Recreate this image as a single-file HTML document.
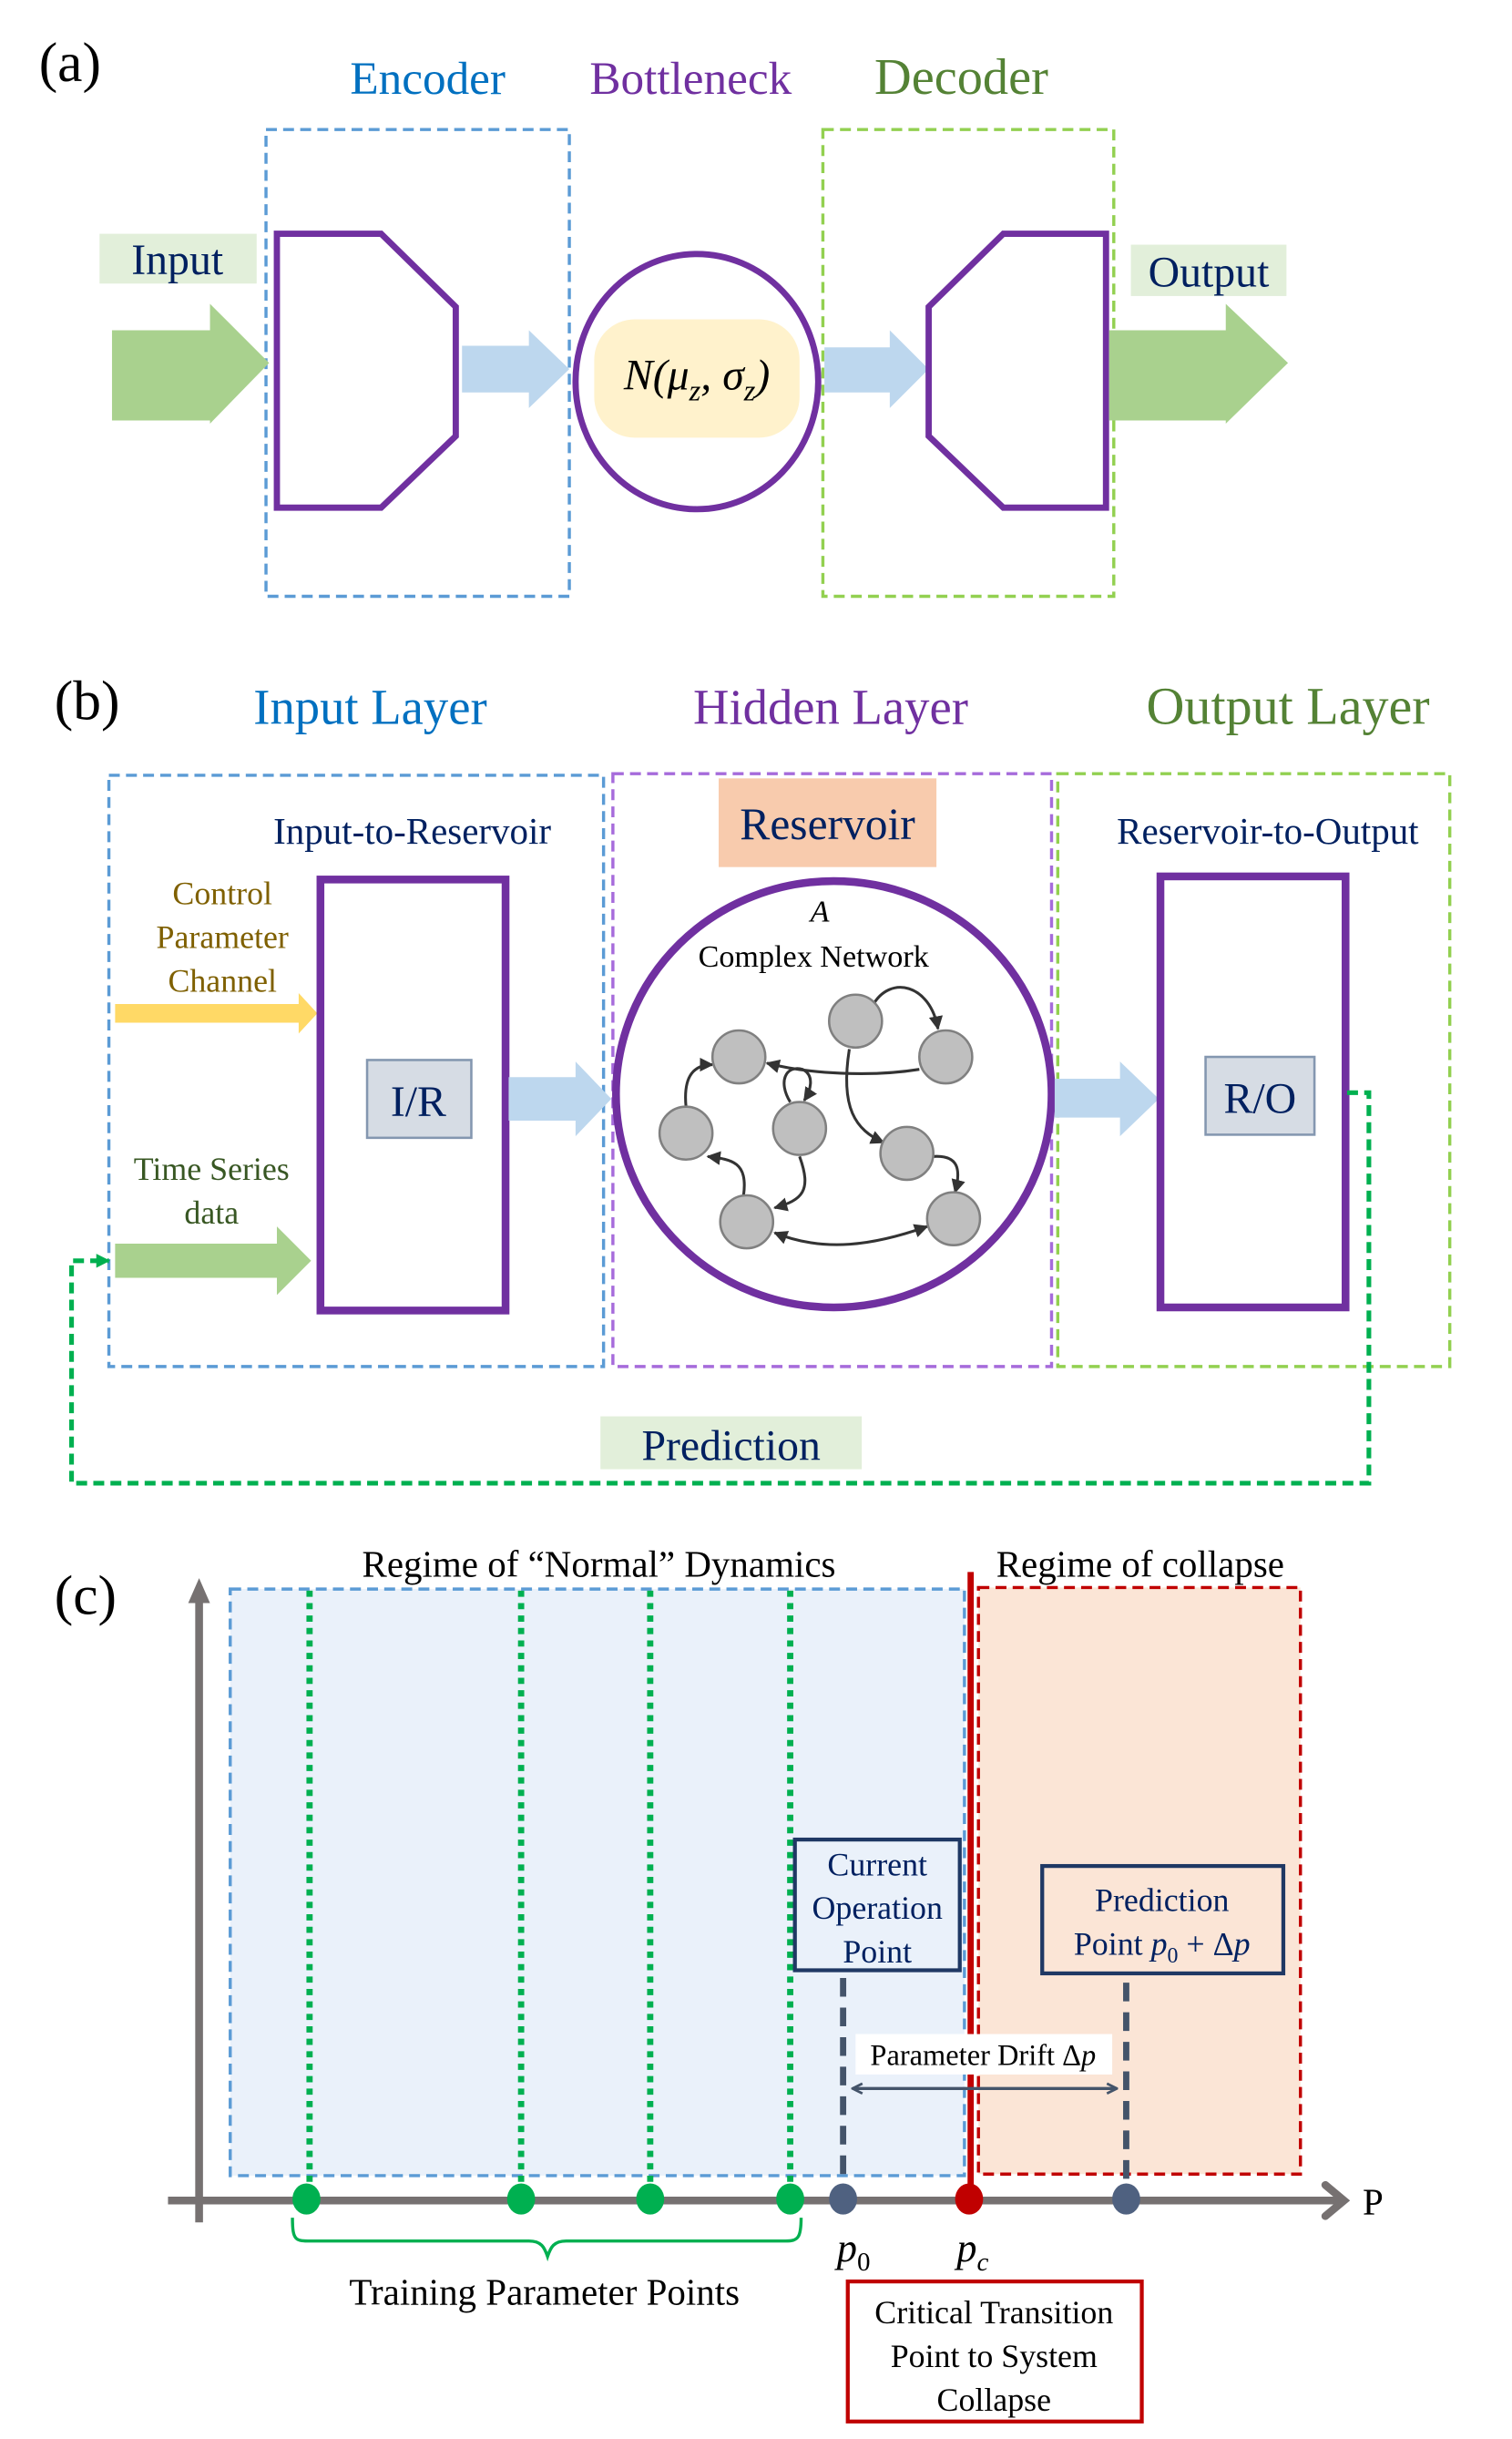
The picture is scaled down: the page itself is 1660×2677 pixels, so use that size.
<!DOCTYPE html>
<html><head><meta charset="utf-8"><style>
html,body{margin:0;padding:0;background:#fff;}
svg{display:block;font-family:"Liberation Serif","Times New Roman",serif;}
text{font-family:"Liberation Serif","Times New Roman",serif;}
</style></head><body>
<svg width="1660" height="2677" viewBox="0 0 972 1567" xmlns="http://www.w3.org/2000/svg" font-family="Liberation Serif, serif">
<defs>
<marker id="ah" viewBox="0 0 10 10" refX="9" refY="5" markerWidth="5" markerHeight="5" orient="auto-start-reverse"><path d="M0,0 L10,5 L0,10 z" fill="#333"/></marker>
<marker id="ah2" viewBox="0 0 10 10" refX="9" refY="5" markerWidth="4" markerHeight="4" orient="auto-start-reverse"><path d="M1,1 L9,5 L1,9" fill="none" stroke="#44546A" stroke-width="2"/></marker>
<marker id="gh" viewBox="0 0 10 10" refX="9" refY="5" markerWidth="3" markerHeight="3" orient="auto"><path d="M0,0 L10,5 L0,10 z" fill="#00B050"/></marker>
</defs>

<!-- (a) -->
<text x="25" y="52" font-size="36">(a)</text>
<text x="275" y="60" font-size="30" fill="#0070C0" text-anchor="middle">Encoder</text>
<text x="444" y="60" font-size="30" fill="#7030A0" text-anchor="middle">Bottleneck</text>
<text x="618" y="60" font-size="33" fill="#548235" text-anchor="middle">Decoder</text>
<rect x="171" y="83" width="195" height="300" fill="none" stroke="#5B9BD5" stroke-width="2" stroke-dasharray="7,4"/>
<rect x="529" y="83" width="187" height="300" fill="none" stroke="#92D050" stroke-width="2" stroke-dasharray="7,4"/>
<rect x="64" y="150" width="101" height="32" fill="#E2EFDA"/>
<text x="114" y="176" font-size="28" fill="#002060" text-anchor="middle">Input</text>
<polygon points="72,212 135,212 135,195 173,233 135,272 135,270 72,270" fill="#A9D18E"/>
<polygon points="178,150 245,150 293,197 293,280 245,326 178,326" fill="#fff" stroke="#7030A0" stroke-width="4"/>
<polygon points="297,222 340,222 340,212 366,237 340,262 340,252 297,252" fill="#BDD7EE"/>
<ellipse cx="448" cy="245" rx="78" ry="82" fill="#fff" stroke="#7030A0" stroke-width="4"/>
<rect x="382" y="205" width="132" height="76" rx="26" fill="#FFF2CC"/>
<text x="448" y="250" font-size="28" font-style="italic" text-anchor="middle">N(μ<tspan font-size="19" dy="7">z</tspan><tspan dy="-7">, σ</tspan><tspan font-size="19" dy="7">z</tspan><tspan dy="-7">)</tspan></text>
<polygon points="530,223 572,223 572,212 597,237 572,262 572,252 530,252" fill="#BDD7EE"/>
<polygon points="645,150 711,150 711,326 645,326 597,280 597,197" fill="#fff" stroke="#7030A0" stroke-width="4"/>
<rect x="727" y="157" width="100" height="33" fill="#E2EFDA"/>
<text x="777" y="184" font-size="28" fill="#002060" text-anchor="middle">Output</text>
<polygon points="713,212 788,212 788,195 828,233 788,272 788,270 713,270" fill="#A9D18E"/>

<!-- (b) -->
<text x="35" y="462" font-size="36">(b)</text>
<text x="238" y="465" font-size="32" fill="#0070C0" text-anchor="middle">Input Layer</text>
<text x="534" y="465" font-size="32" fill="#7030A0" text-anchor="middle">Hidden Layer</text>
<text x="828" y="465" font-size="34" fill="#548235" text-anchor="middle">Output Layer</text>
<rect x="70" y="498" width="318" height="380" fill="none" stroke="#5B9BD5" stroke-width="2" stroke-dasharray="7,4"/>
<rect x="394" y="497" width="282" height="381" fill="none" stroke="#A66BDB" stroke-width="2" stroke-dasharray="7,4"/>
<rect x="680" y="497" width="252" height="381" fill="none" stroke="#92D050" stroke-width="2" stroke-dasharray="7,4"/>
<text x="265" y="542" font-size="24" fill="#002060" text-anchor="middle">Input-to-Reservoir</text>
<rect x="462" y="500" width="140" height="57" fill="#F8CBAD"/>
<text x="532" y="539" font-size="29" fill="#002060" text-anchor="middle">Reservoir</text>
<text x="815" y="542" font-size="24" fill="#002060" text-anchor="middle">Reservoir-to-Output</text>
<text x="143" y="581" font-size="21" fill="#7F6000" text-anchor="middle">Control</text>
<text x="143" y="609" font-size="21" fill="#7F6000" text-anchor="middle">Parameter</text>
<text x="143" y="637" font-size="21" fill="#7F6000" text-anchor="middle">Channel</text>
<polygon points="74,645 192,645 192,638 204,651 192,664 192,657 74,657" fill="#FFD966"/>
<text x="136" y="758" font-size="21" fill="#385723" text-anchor="middle">Time Series</text>
<text x="136" y="786" font-size="21" fill="#385723" text-anchor="middle">data</text>
<polygon points="74,799 178,799 178,788 200,810 178,832 178,821 74,821" fill="#A9D18E"/>
<rect x="206" y="565" width="119" height="277" fill="#fff" stroke="#7030A0" stroke-width="5"/>
<rect x="236" y="681" width="67" height="50" fill="#D6DCE4" stroke="#8497B0" stroke-width="1.5"/>
<text x="269" y="717" font-size="28" fill="#002060" text-anchor="middle">I/R</text>
<polygon points="327,692 370,692 370,682 393,706 370,730 370,720 327,720" fill="#BDD7EE"/>
<ellipse cx="536" cy="703" rx="140" ry="137" fill="#fff" stroke="#7030A0" stroke-width="5"/>
<text x="527" y="592" font-size="20" font-style="italic" text-anchor="middle">A</text>
<text x="523" y="621" font-size="20" text-anchor="middle">Complex Network</text>
<g fill="none" stroke="#333" stroke-width="1.8">
<path d="M561,646 C572,626 598,632 603,661" marker-end="url(#ah)"/>
<path d="M591,687 C560,692 520,690 493,683" marker-end="url(#ah)"/>
<path d="M546,674 C540,712 550,726 568,734" marker-end="url(#ah)"/>
<path d="M441,711 C439,690 447,684 458,684" marker-end="url(#ah)"/>
<path d="M508,708 C500,695 505,684 516,687 C524,691 521,701 517,707" marker-end="url(#ah)"/>
<path d="M514,743 C522,765 516,771 498,776" marker-end="url(#ah)"/>
<path d="M478,768 C481,746 470,745 455,743" marker-end="url(#ah)"/>
<path d="M600,743 C616,742 618,751 614,766" marker-end="url(#ah)"/>
<path d="M498,792 C530,805 562,800 596,788" marker-start="url(#ah)" marker-end="url(#ah)"/>
</g>
<g fill="#BFBFBF" stroke="#808080" stroke-width="1.5">
<circle cx="475" cy="679" r="17"/><circle cx="550" cy="656" r="17"/><circle cx="608" cy="679" r="17"/>
<circle cx="441" cy="728" r="17"/><circle cx="514" cy="725" r="17"/><circle cx="583" cy="741" r="17"/>
<circle cx="480" cy="785" r="17"/><circle cx="613" cy="783" r="17"/>
</g>
<polygon points="678,693 720,693 720,682 745,706 720,730 720,718 678,718" fill="#BDD7EE"/>
<rect x="746" y="563" width="119" height="277" fill="#fff" stroke="#7030A0" stroke-width="5"/>
<rect x="775" y="679" width="70" height="50" fill="#D6DCE4" stroke="#8497B0" stroke-width="1.5"/>
<text x="810" y="715" font-size="28" fill="#002060" text-anchor="middle">R/O</text>
<path d="M866,702 L880,702 L880,953 L46,953 L46,810 L70,810" fill="none" stroke="#00B050" stroke-width="3" stroke-dasharray="7,4" marker-end="url(#gh)"/>
<rect x="386" y="910" width="168" height="34" fill="#E2EFDA"/>
<text x="470" y="938" font-size="28" fill="#002060" text-anchor="middle">Prediction</text>

<!-- (c) -->
<text x="35" y="1037" font-size="36">(c)</text>
<text x="385" y="1013" font-size="24" text-anchor="middle">Regime of “Normal” Dynamics</text>
<text x="733" y="1013" font-size="24" text-anchor="middle">Regime of collapse</text>
<rect x="148" y="1021" width="472" height="377" fill="#EAF1FA" stroke="#5B9BD5" stroke-width="2" stroke-dasharray="7,4"/>
<rect x="629" y="1020" width="207" height="377" fill="#FBE5D6" stroke="#C00000" stroke-width="2" stroke-dasharray="7,4"/>
<g stroke="#00B050" stroke-width="4" stroke-dasharray="4,4">
<line x1="199" y1="1022" x2="199" y2="1410"/><line x1="335" y1="1022" x2="335" y2="1410"/>
<line x1="418" y1="1022" x2="418" y2="1410"/><line x1="508" y1="1022" x2="508" y2="1410"/>
</g>
<line x1="624" y1="1010" x2="624" y2="1414" stroke="#C00000" stroke-width="4"/>
<rect x="511" y="1182" width="106" height="84" fill="#EAF1FA" stroke="#1F3864" stroke-width="2.5"/>
<text x="564" y="1205" font-size="21" fill="#002060" text-anchor="middle">Current</text>
<text x="564" y="1233" font-size="21" fill="#002060" text-anchor="middle">Operation</text>
<text x="564" y="1261" font-size="21" fill="#002060" text-anchor="middle">Point</text>
<rect x="670" y="1199" width="155" height="69" fill="#FBE5D6" stroke="#1F3864" stroke-width="2.5"/>
<text x="747" y="1228" font-size="21" fill="#002060" text-anchor="middle">Prediction</text>
<text x="747" y="1256" font-size="21" fill="#002060" text-anchor="middle">Point <tspan font-style="italic">p</tspan><tspan font-size="14" dy="5">0</tspan><tspan dy="-5"> + Δ</tspan><tspan font-style="italic">p</tspan></text>
<g stroke="#44546A" stroke-width="4" stroke-dasharray="12,7">
<line x1="542" y1="1271" x2="542" y2="1410"/><line x1="724" y1="1274" x2="724" y2="1410"/>
</g>
<rect x="550" y="1307" width="165" height="26" fill="#fff"/>
<text x="632" y="1327" font-size="19" text-anchor="middle">Parameter Drift Δ<tspan font-style="italic">p</tspan></text>
<line x1="548" y1="1342" x2="718" y2="1342" stroke="#44546A" stroke-width="2" marker-start="url(#ah2)" marker-end="url(#ah2)"/>
<line x1="128" y1="1428" x2="128" y2="1022" stroke="#767171" stroke-width="5"/>
<path d="M121,1030 L128,1014 L135,1030 z" fill="#767171"/>
<line x1="108" y1="1414" x2="862" y2="1414" stroke="#767171" stroke-width="5"/>
<path d="M852,1404 L864,1414 L852,1424" fill="none" stroke="#767171" stroke-width="5" stroke-linecap="round"/>
<text x="876" y="1423" font-size="24">P</text>
<g fill="#00B050"><ellipse cx="197" cy="1413" rx="9" ry="10"/><ellipse cx="335" cy="1413" rx="9" ry="10"/><ellipse cx="418" cy="1413" rx="9" ry="10"/><ellipse cx="508" cy="1413" rx="9" ry="10"/></g>
<ellipse cx="542" cy="1413" rx="9" ry="10" fill="#4F6180"/>
<ellipse cx="623" cy="1413" rx="9" ry="10" fill="#C00000"/>
<ellipse cx="724" cy="1413" rx="9" ry="10" fill="#4F6180"/>
<path d="M188,1425 C188,1440 190,1440 200,1440 L340,1440 C348,1440 350,1444 352,1450 C354,1444 356,1440 364,1440 L505,1440 C513,1440 515,1438 515,1425" fill="none" stroke="#00B050" stroke-width="2"/>
<text x="350" y="1481" font-size="24" text-anchor="middle">Training Parameter Points</text>
<text x="538" y="1453" font-size="26" font-style="italic">p<tspan font-size="17" font-style="normal" dy="6">0</tspan></text>
<text x="615" y="1453" font-size="26" font-style="italic">p<tspan font-size="17" dy="6">c</tspan></text>
<rect x="545" y="1466" width="189" height="90" fill="#fff" stroke="#C00000" stroke-width="2.5"/>
<text x="639" y="1493" font-size="21" text-anchor="middle">Critical Transition</text>
<text x="639" y="1521" font-size="21" text-anchor="middle">Point to System</text>
<text x="639" y="1549" font-size="21" text-anchor="middle">Collapse</text>
</svg>
</body></html>
